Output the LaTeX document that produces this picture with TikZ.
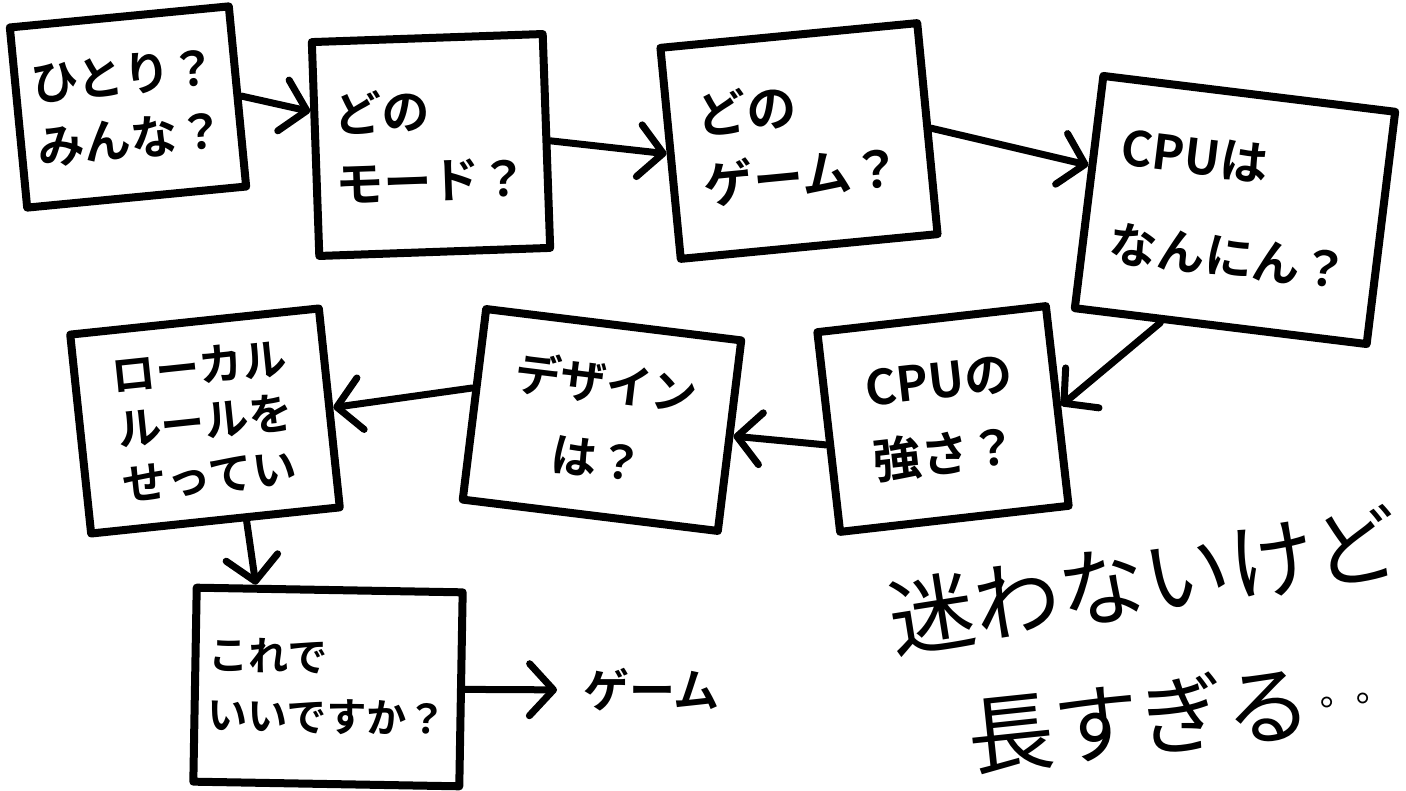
\documentclass[tikz,border=0pt]{standalone}
\usepackage{fontspec}
\newfontfamily\jp{Noto Sans CJK JP}[BoldFont={* Bold}]
\usetikzlibrary{arrows.meta,calc}
\begin{document}
\begin{tikzpicture}[x=1pt,y=-1pt,
  box/.style={draw, line width=8pt, line join=round, inner sep=0pt, align=left},
  boxtext/.style 2 args={font=\jp\bfseries\fontsize{#1}{#2}\selectfont},
  conn/.style={line width=7pt, line cap=round, line join=round,
    -{Straight Barb[length=24pt,width=52pt,round]}},
  big/.style={font=\jp\fontsize{#1}{#1}\selectfont, inner sep=0pt}
]
\useasboundingbox (0,0) rectangle (1406,791);
\fill[white] (0,0) rectangle (1406,791);

\node[box, boxtext={47}{64}, minimum width=220pt, minimum height=181pt, rotate=5.5] (b1) at (128,107) {ひとり？\\みんな？};
\node[box, boxtext={48}{70}, minimum width=231pt, minimum height=214pt, rotate=2] (b2) at (431,145) {どの\\モード？};
\node[box, boxtext={50}{70}, minimum width=258pt, minimum height=212pt, rotate=5.5] (b3) at (799,141) {どの\\ゲーム？};
\node[box, boxtext={48}{96}, minimum width=294pt, minimum height=234pt, rotate=-7] (b4) at (1235,210) {CPUは\\なんにん？};
\node[box, boxtext={48}{74}, minimum width=230pt, minimum height=201pt, rotate=6.5] (b5) at (943,419) {CPUの\\強さ？};
\node[box, boxtext={46}{76}, minimum width=257pt, minimum height=192pt, rotate=-7, align=center] (b6) at (602,420) {デザイン\\は？};
\node[box, boxtext={44}{55}, minimum width=250pt, minimum height=200pt, rotate=6] (b7) at (205,421) {ローカル\\ルールを\\せってい};
\node[box, boxtext={40}{60}, minimum width=266pt, minimum height=194pt, rotate=-1] (b8) at (328,687) {これで\\いいですか？};
\node[boxtext={46}{46}, inner sep=0pt, anchor=west] (game) at (583,690) {ゲーム};

\node[big=86, rotate=9] (t1) at (1144,580) {迷わないけど};
\node[big=86, rotate=6, anchor=west] (t2) at (968,737) {長すぎる\hspace{10pt}{\fontsize{36}{36}\selectfont\raisebox{26pt}{。。}}};

\draw[conn] (b1.east) -- ($(b2.north west)!0.33!(b2.south west)$);
\draw[conn] (b2.east) -- (b3.west);
\draw[conn] (b3.east) -- ($(b4.north west)!0.39!(b4.south west)$);
\draw[conn] ($(b4.south west)!0.3!(b4.south east)$) -- (b5.east);
\draw[conn] ($(b5.north west)!0.56!(b5.south west)$) -- (b6.east);
\draw[conn] ($(b6.north west)!0.42!(b6.south west)$) -- (b7.east);
\draw[conn] ($(b7.south west)!0.62!(b7.south east)$) -- ($(b8.north west)!0.23!(b8.north east)$);
\draw[conn, shorten >=26pt] (b8.east) -- (game.west);
\end{tikzpicture}
\end{document}
